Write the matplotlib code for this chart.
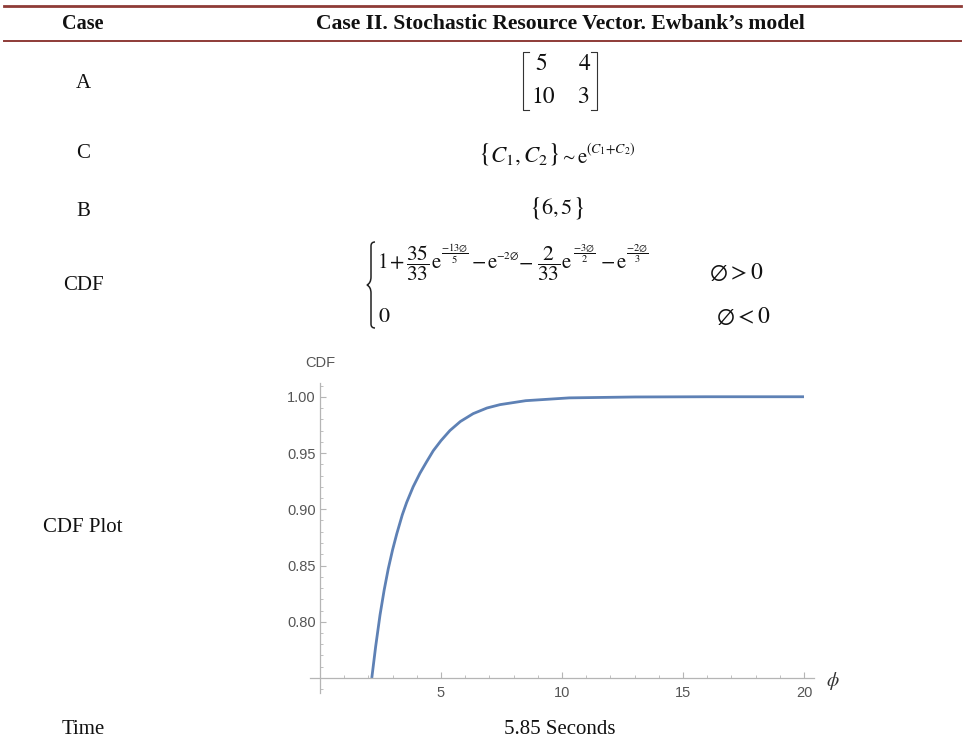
import matplotlib
matplotlib.use('Agg')
import matplotlib.pyplot as plt
from matplotlib.lines import Line2D
from matplotlib.patches import PathPatch
from matplotlib.path import Path
import matplotlib.ticker as mticker

plt.rcParams['mathtext.fontset'] = 'stix'

# ---------------- data ----------------
header = ["Case", "Case II. Stochastic Resource Vector. Ewbank\u2019s model"]
row_labels = ["A", "C", "B", "CDF", "CDF Plot", "Time"]
matrix_A = [[5, 4], [10, 3]]
vector_B = [6, 5]
time_text = "5.85 Seconds"

phi = [2.14, 2.30, 2.48, 2.65, 2.82, 3.00, 3.17, 3.40, 3.58, 3.85, 4.13, 4.40,
       4.68, 5.00, 5.37, 5.80, 6.33, 6.90, 7.44, 8.50, 10.3, 13.0, 16.0, 20.0]
cdf = [0.750, 0.778, 0.806, 0.828, 0.847, 0.864, 0.878, 0.895, 0.906, 0.920,
       0.932, 0.942, 0.952, 0.961, 0.970, 0.978, 0.985, 0.990, 0.993, 0.9965,
       0.9990, 0.9998, 1.0, 1.0]
x_ticks = [5, 10, 15, 20]
y_ticks = [0.80, 0.85, 0.90, 0.95, 1.00]

# ---------------- figure ----------------
W, H = 965, 742
fig = plt.figure(figsize=(W / 100, H / 100), dpi=100)


def fx(x):
    return x / W


def fy(y):
    return 1 - y / H


serif = 'Liberation Serif'
stix = 'STIXGeneral'
RED = '#8E3B37'
INK = '#111111'


def T(x, y, s, size, ha='left', va='baseline', **kw):
    kw.setdefault('color', INK)
    return fig.text(fx(x), fy(y), s, ha=ha, va=va, fontsize=size, **kw)


for y, lw in [(6, 2.0), (41, 1.4)]:
    fig.add_artist(Line2D([fx(4), fx(961)], [fy(y), fy(y)], color=RED, lw=lw))

# header
T(83, 24, header[0], 14.5, ha='center', va='center', family=serif, fontweight='bold')
T(560, 24, header[1], 15.6, ha='center', va='center', family=serif, fontweight='bold')

# left column
label_y = [83, 153, 212, 285, 527, 729]
for lab, y in zip(row_labels, label_y):
    T(83, y, lab, 15, ha='center', va='center', family=serif)

# matrix A
col_x = [541, 585]
row_y = [64, 97]
for i, row in enumerate(matrix_A):
    for j, v in enumerate(row):
        xx = col_x[j] + (2 if (i == 1 and j == 0) else 0) - (2 if (i == 1 and j == 1) else 0)
        T(xx, row_y[i], str(v), 17, ha='center', va='center', family=stix)
bl, br, bt, bb = 523, 597, 52, 110
fig.add_artist(Line2D([fx(bl + 6), fx(bl), fx(bl), fx(bl + 6)],
                      [fy(bt), fy(bt), fy(bb), fy(bb)], color='#333333', lw=0.8))
fig.add_artist(Line2D([fx(br - 6), fx(br), fx(br), fx(br - 6)],
                      [fy(bt), fy(bt), fy(bb), fy(bb)], color='#333333', lw=0.8))

# C row
T(485, 153, '{', 19, ha='center', va='center', family=stix)
T(519, 162, r'$C_{1}, C_{2}$', 16.5, ha='center')
T(554, 153, '}', 19, ha='center', va='center', family=stix)
T(568, 161, r'$\sim$', 13, ha='center')
T(577, 163, r'$\mathrm{e}$', 15)
T(586, 153, r'$(C_1{+}C_2)$', 10)

# B row
T(536, 207, '{', 19, ha='center', va='center', family=stix)
T(557, 214, r'$%d,%d$' % tuple(vector_B), 16, ha='center')
T(579, 207, '}', 19, ha='center', va='center', family=stix)


# CDF piecewise
def brace(x0, x1, ytop, ybot):
    ym = (ytop + ybot) / 2
    xm = (x0 + x1) / 2
    pts = [(x1, ytop), (xm, ytop), (xm, ytop + 4), (xm, ym - 8),
           (xm, ym - 2), (x0, ym), (x0, ym),
           (x0, ym), (xm, ym + 2), (xm, ym + 8),
           (xm, ybot - 4), (xm, ybot), (x1, ybot)]
    codes = [Path.MOVETO, Path.CURVE3, Path.CURVE3, Path.LINETO,
             Path.CURVE3, Path.CURVE3, Path.LINETO,
             Path.LINETO, Path.CURVE3, Path.CURVE3,
             Path.LINETO, Path.CURVE3, Path.CURVE3]
    pts = [(fx(a), fy(b)) for a, b in pts]
    p = PathPatch(Path(pts, codes), transform=fig.transFigure, fill=False,
                  lw=1.1, edgecolor='#222222')
    fig.add_artist(p)


brace(367, 375, 242, 328)
base = 268
T(377, base, r'$1\,{+}$', 15)
T(418, base, r'$\dfrac{35}{33}$', 15.5, ha='center')
T(431, base, r'$\mathrm{e}$', 15)
T(455, base - 11, r'$\dfrac{-13\varnothing}{5}$', 7.5, ha='center')
T(471, base, r'${-}\,\mathrm{e}$', 15)
T(496, base - 9, r'$-2\varnothing$', 8)
T(518, base, r'${-}$', 15)
T(549, base, r'$\dfrac{2}{33}$', 15.5, ha='center')
T(561, base, r'$\mathrm{e}$', 15)
T(584, base - 11, r'$\dfrac{-3\varnothing}{2}$', 7.5, ha='center')
T(600, base, r'${-}\,\mathrm{e}$', 15)
T(637, base - 11, r'$\dfrac{-2\varnothing}{3}$', 7.5, ha='center')

T(736, 272, r'$\varnothing > 0$', 17, ha='center', va='center')
T(378, 316, r'$0$', 16, va='center')
T(743, 316, r'$\varnothing < 0$', 17, ha='center', va='center')

# time
T(560, 729, time_text, 15, ha='center', va='center', family=serif)

# ---------------- plot ----------------
ax_l, ax_r, ax_t, ax_b = 310, 814, 383, 693
ax = fig.add_axes([fx(ax_l), fy(ax_b), (ax_r - ax_l) / W, (ax_b - ax_t) / H])
xpx0 = 320.0
ppu = (804 - 320) / 20.0
ypx_075 = 678.0
ppy = (622.3 - 397.3) / 0.20
ax.set_xlim((ax_l - xpx0) / ppu, (ax_r - xpx0) / ppu)
ax.set_ylim(0.75 - (ax_b - ypx_075) / ppy, 0.75 + (ypx_075 - ax_t) / ppy)

ax.plot(phi, cdf, color='#5E81B5', lw=2.0, solid_capstyle='butt', clip_on=False)

AXC = '#b5b5b5'
for sp in ['top', 'right']:
    ax.spines[sp].set_visible(False)
ax.spines['left'].set_position(('data', 0))
ax.spines['bottom'].set_position(('data', 0.75))
ax.spines['left'].set_color(AXC)
ax.spines['bottom'].set_color(AXC)
ax.spines['left'].set_linewidth(0.9)
ax.spines['bottom'].set_linewidth(0.9)
ax.set_facecolor('none')

ax.set_xticks(x_ticks)
ax.set_xticklabels([str(t) for t in x_ticks])
ax.set_yticks(y_ticks)
ax.set_yticklabels(['%.2f' % t for t in y_ticks])
ax.xaxis.set_minor_locator(mticker.MultipleLocator(1))
ax.yaxis.set_minor_locator(mticker.MultipleLocator(0.01))
ax.tick_params(axis='both', which='major', direction='in', length=4, width=0.8,
               color=AXC, labelcolor='#555555', labelsize=10.5,
               labelfontfamily='Liberation Sans')
ax.tick_params(axis='both', which='minor', direction='in', length=2, width=0.6,
               color=AXC)
ax.tick_params(axis='x', pad=6)
ax.tick_params(axis='y', pad=3)

T(320, 363, 'CDF', 10.5, ha='center', va='center', family='Liberation Sans',
  color='#555555')
T(833, 681, r'$\phi$', 14, ha='center', va='center', color='#333333')

fig.savefig('out.png', dpi=100)
